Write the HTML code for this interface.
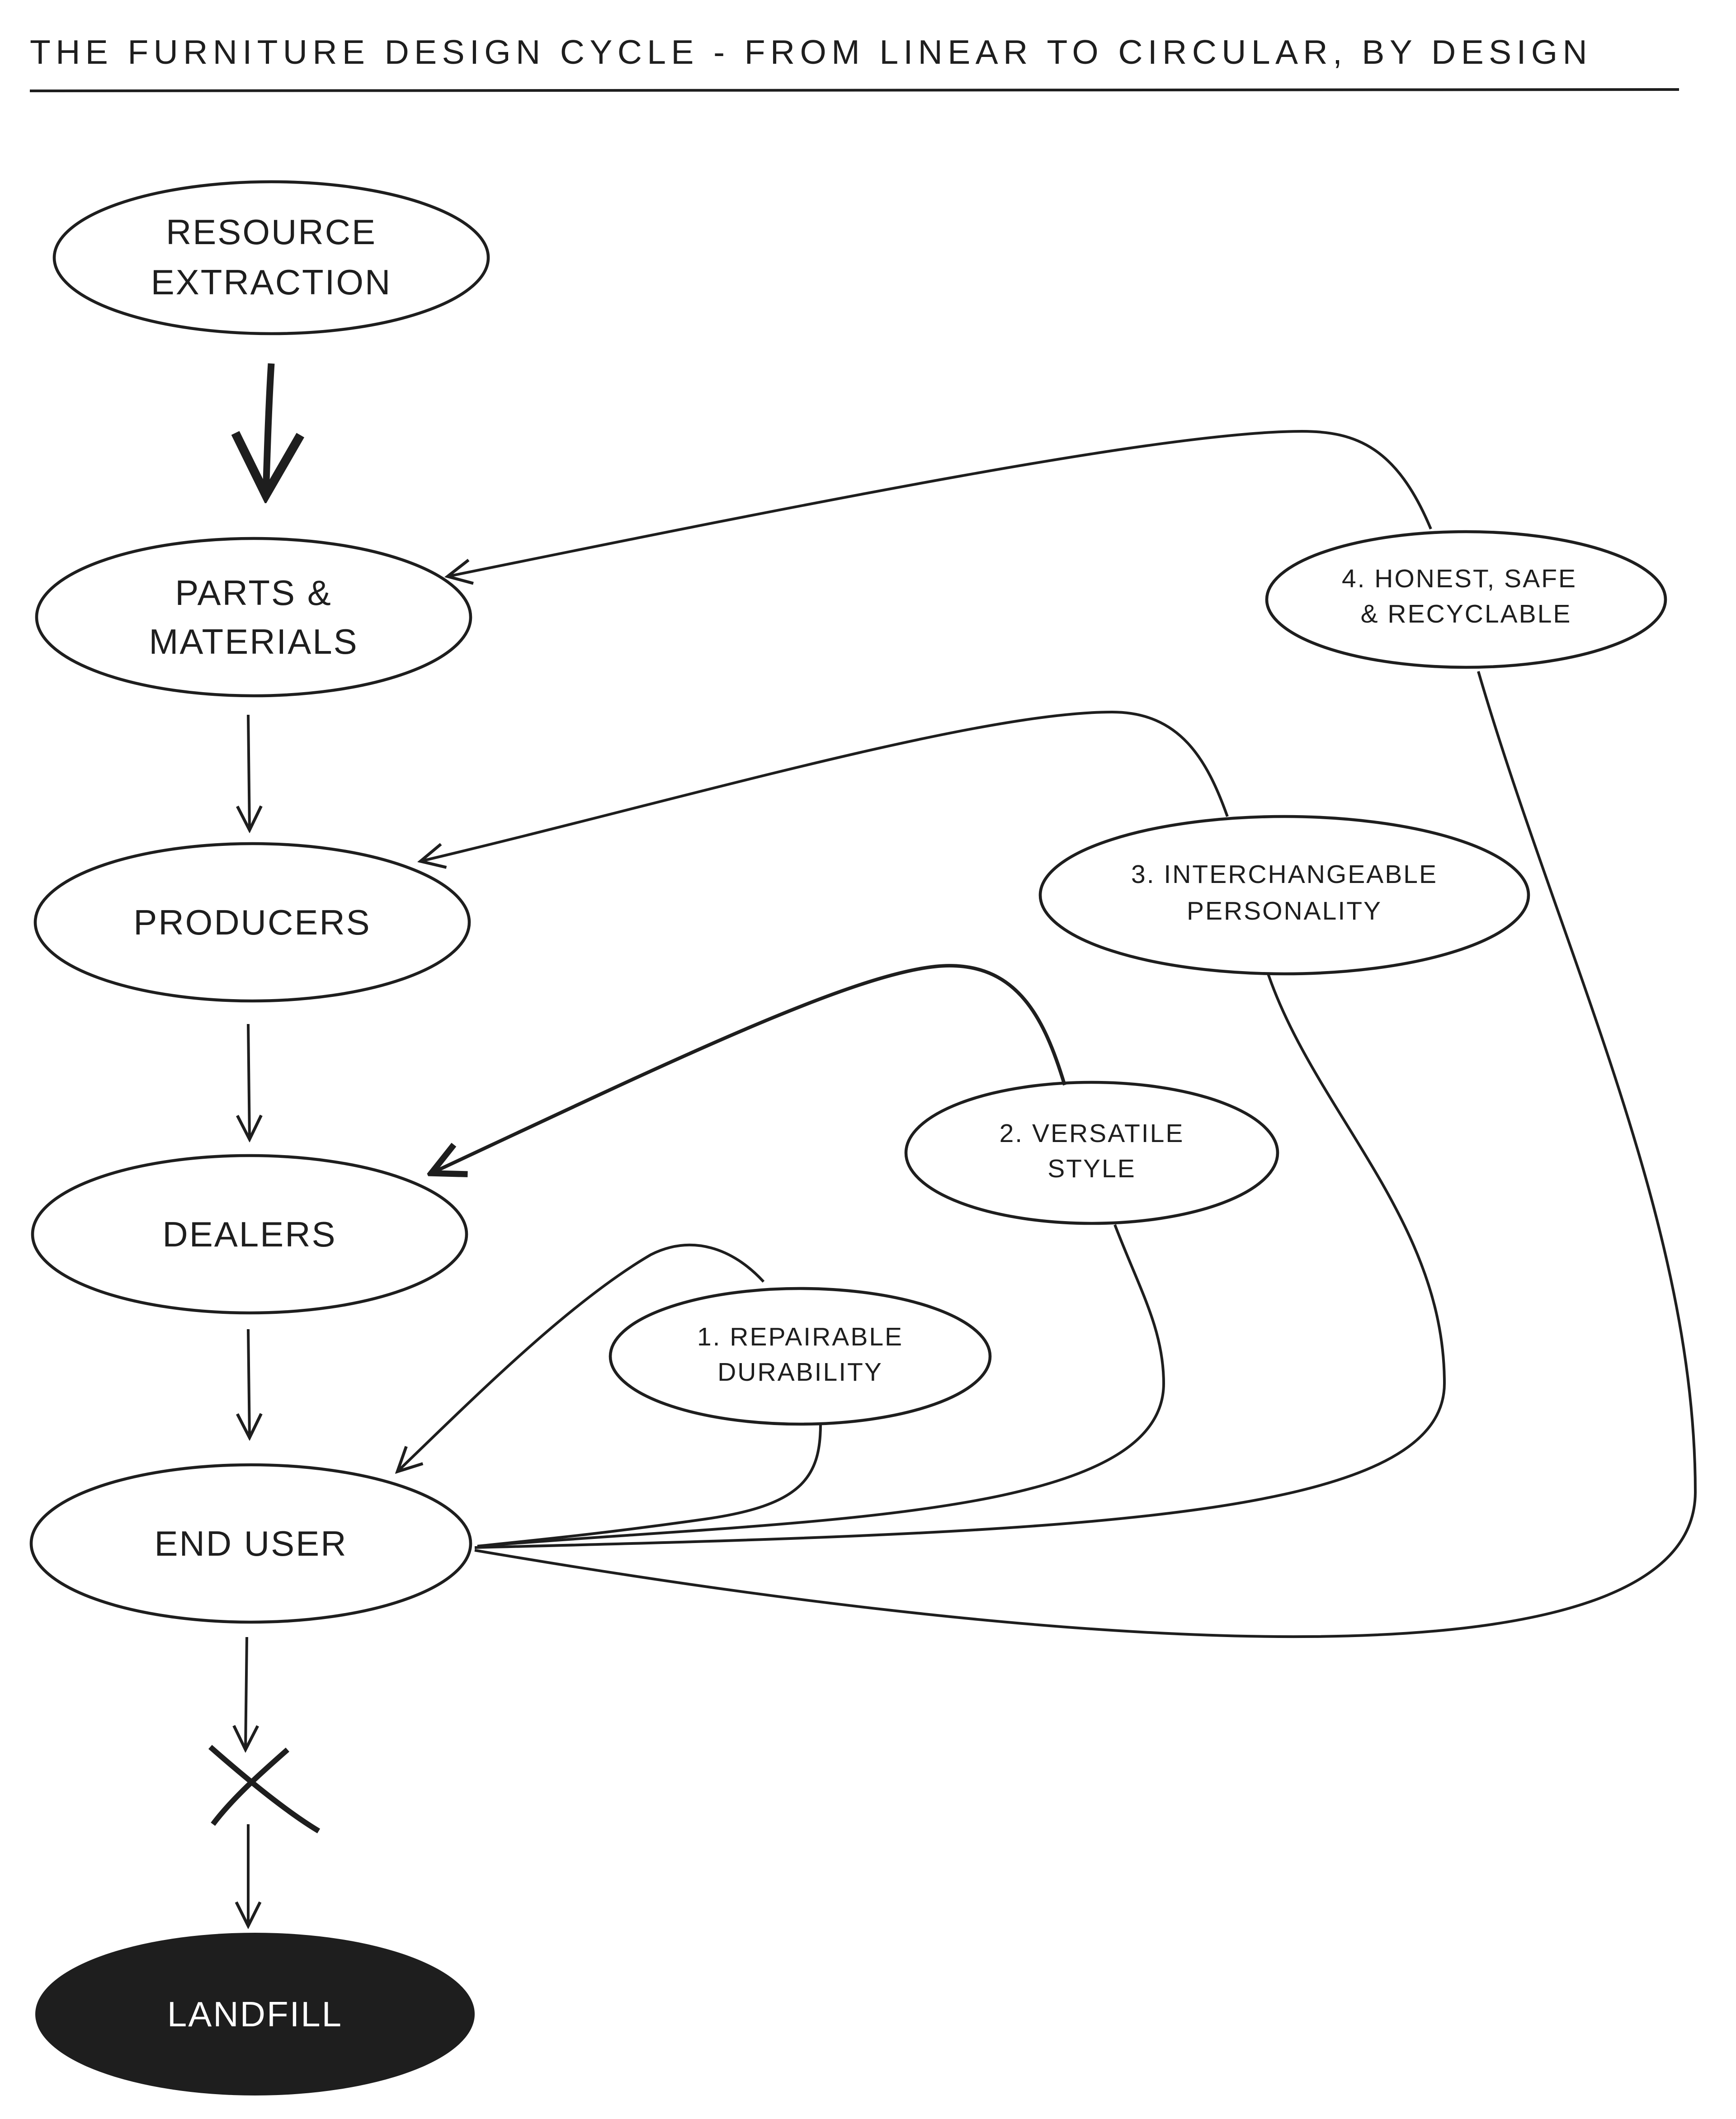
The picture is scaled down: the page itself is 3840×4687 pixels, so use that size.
<!DOCTYPE html>
<html><head><meta charset="utf-8"><style>
html,body{margin:0;padding:0;background:#fff;}
svg{display:block;}
text{font-family:"Liberation Sans",sans-serif;fill:#1e1e1e;text-anchor:middle;letter-spacing:1px;}
</style></head><body>
<svg width="3840" height="4687" viewBox="0 0 1280 1562.33" xmlns="http://www.w3.org/2000/svg">
<defs>
<marker id="a" viewBox="0 0 20 20" refX="18" refY="10" markerWidth="22" markerHeight="22" markerUnits="userSpaceOnUse" orient="auto">
<path d="M2,2 L18,10 L2,18" fill="none" stroke="#1e1e1e" stroke-width="2"/>
</marker>
<marker id="b" viewBox="0 0 20 20" refX="18" refY="10" markerWidth="30" markerHeight="30" markerUnits="userSpaceOnUse" orient="auto">
<path d="M2,2 L18,10 L2,18" fill="none" stroke="#1e1e1e" stroke-width="3"/>
</marker>
<marker id="c" viewBox="0 0 20 20" refX="18" refY="10" markerWidth="60" markerHeight="60" markerUnits="userSpaceOnUse" orient="auto">
<path d="M3,2 L18,10 L3,18" fill="none" stroke="#1e1e1e" stroke-width="2.2"/>
</marker>
</defs>
<text x="22" y="47" style="text-anchor:start;font-size:25px;letter-spacing:3.8px">THE FURNITURE DESIGN CYCLE - FROM LINEAR TO CIRCULAR, BY DESIGN</text>
<line x1="22" y1="67" x2="1238" y2="66" stroke="#1e1e1e" stroke-width="2"/>

<g fill="none" stroke="#1e1e1e" stroke-width="2.2">
<ellipse cx="200" cy="190" rx="160" ry="56"/>
<ellipse cx="187" cy="455" rx="160" ry="58"/>
<ellipse cx="186" cy="680" rx="160" ry="58"/>
<ellipse cx="184" cy="910" rx="160" ry="58"/>
<ellipse cx="185" cy="1138" rx="162" ry="58"/>
<ellipse cx="1081" cy="442" rx="147" ry="50"/>
<ellipse cx="947" cy="660" rx="180" ry="58"/>
<ellipse cx="805" cy="850" rx="137" ry="52"/>
<ellipse cx="590" cy="1000" rx="140" ry="50"/>
</g>
<ellipse cx="188" cy="1485" rx="162" ry="60" fill="#1e1e1e"/>

<text x="200" y="180" font-size="26">RESOURCE</text>
<text x="200" y="217" font-size="26">EXTRACTION</text>
<text x="187" y="446" font-size="26">PARTS &amp;</text>
<text x="187" y="482" font-size="26">MATERIALS</text>
<text x="186" y="689" font-size="26">PRODUCERS</text>
<text x="184" y="919" font-size="26">DEALERS</text>
<text x="185" y="1147" font-size="26">END USER</text>
<text x="188" y="1494" font-size="26" style="fill:#fff">LANDFILL</text>
<text x="1076" y="433" font-size="19">4. HONEST, SAFE</text>
<text x="1081" y="459" font-size="19">&amp; RECYCLABLE</text>
<text x="947" y="651" font-size="19">3. INTERCHANGEABLE</text>
<text x="947" y="678" font-size="19">PERSONALITY</text>
<text x="805" y="842" font-size="19">2. VERSATILE</text>
<text x="805" y="868" font-size="19">STYLE</text>
<text x="590" y="992" font-size="19">1. REPAIRABLE</text>
<text x="590" y="1018" font-size="19">DURABILITY</text>

<g fill="none" stroke="#1e1e1e" stroke-width="2">
<path d="M200,268 C198,300 197,335 196,365" stroke-width="5" marker-end="url(#c)"/>
<path d="M183,527 L184,612" marker-end="url(#a)"/>
<path d="M183,755 L184,840" marker-end="url(#a)"/>
<path d="M183,980 L184,1060" marker-end="url(#a)"/>
<path d="M182,1207 L181,1290" marker-end="url(#a)"/>
<path d="M183,1345 L183,1420" marker-end="url(#a)"/>
<path d="M155,1288 C180,1310 210,1335 235,1350" stroke-width="4"/>
<path d="M212,1290 C195,1305 172,1325 157,1345" stroke-width="4"/>

<path d="M1055,390 C1030,330 1000,318 960,318 C860,318 600,370 330,425" marker-end="url(#a)"/>
<path d="M1090,495 C1150,700 1250,900 1250,1100 C1250,1250 800,1220 350,1143"/>
<path d="M905,602 C890,560 870,525 820,525 C720,525 500,590 310,635" marker-end="url(#a)"/>
<path d="M935,718 C970,820 1065,900 1065,1020 C1065,1120 800,1130 350,1141"/>
<path d="M785,800 C770,750 750,712 700,712 C640,712 500,780 318,865" marker-end="url(#b)" stroke-width="2.6"/>
<path d="M822,903 C840,950 858,980 858,1020 C858,1120 600,1120 352,1140"/>
<path d="M563,945 C540,920 510,910 480,925 C420,960 350,1030 293,1085" marker-end="url(#a)"/>
<path d="M605,1050 C605,1090 590,1110 520,1120 C450,1130 400,1135 352,1140"/>
</g>
</svg>
</body></html>
